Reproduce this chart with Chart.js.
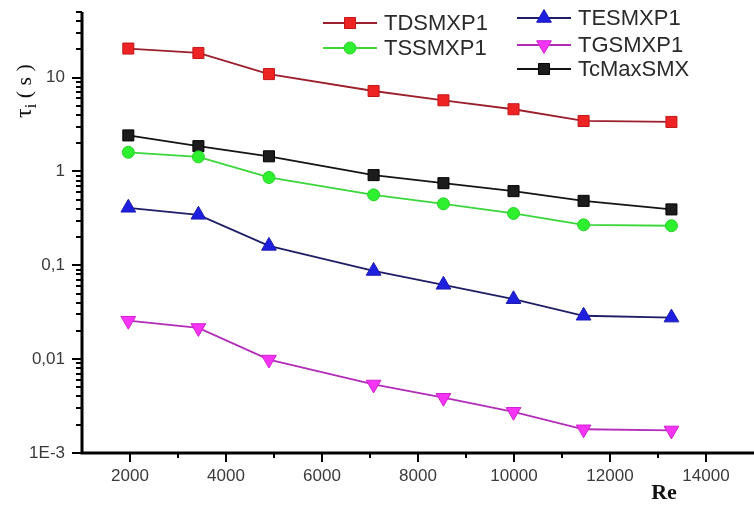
<!DOCTYPE html>
<html>
<head>
<meta charset="utf-8">
<script src="https://cdn.jsdelivr.net/npm/chart.js@4.4.0/dist/chart.umd.min.js"></script>
<style>
    html, body { margin: 0; padding: 0; background: #fff; overflow: hidden; }
    #wrap { width: 754px; height: 505px; position: relative; }
    #tauChart { display: block; }
</style>
</head>
<body>
<div id="wrap"><canvas id="tauChart" width="754" height="505"></canvas></div>
<script>
// Reynolds numbers (x) and time constants (y, seconds)
const reynolds = [1965, 3425, 4895, 7075, 8530, 9990, 11450, 13280];
const tdsmxp1  = [20.4, 18.3, 10.9, 7.2, 5.73, 4.6, 3.45, 3.37];
const tssmxp1  = [1.60, 1.43, 0.863, 0.563, 0.452, 0.357, 0.270, 0.264];
const tesmxp1  = [0.41, 0.345, 0.161, 0.087, 0.062, 0.0435, 0.029, 0.0277];
const tgsmxp1  = [0.0257, 0.0215, 0.0099, 0.00537, 0.00388, 0.00275, 0.00179, 0.00174];
const tcmaxsmx = [2.42, 1.86, 1.45, 0.914, 0.75, 0.617, 0.486, 0.394];

const xTicks = [2000, 4000, 6000, 8000, 10000, 12000, 14000];
const yTicks = [0.001, 0.01, 0.1, 1, 10];
const yTickLabels = ['1E-3', '0,01', '0,1', '1', '10'];

const toPoints = (ys) => ys.map((y, i) => ({x: reynolds[i], y: y}));

function series(label, values, line, fill, edge, style, radius, rotation) {
    return {
        label: label,
        data: toPoints(values),
        borderColor: line,
        borderWidth: 1.8,
        pointStyle: style,
        pointRadius: radius,
        pointRotation: rotation || 0,
        pointBackgroundColor: fill,
        pointBorderColor: edge,
        pointBorderWidth: 1,
        tension: 0,
        legendLine: line,
    };
}

const datasets = [
    series('TDSMXP1', tdsmxp1, '#9c1f2c', '#ee2424', '#c01818', 'rect', 7.8),
    series('TSSMXP1', tssmxp1, '#3ad63a', '#2ef02e', '#2ad02a', 'circle', 6),
    series('TESMXP1', tesmxp1, '#1e1e66', '#1f1fe0', '#1a1ab0', 'triangle', 8.5),
    series('TGSMXP1', tgsmxp1, '#b22cb8', '#f634f6', '#d020d0', 'triangle', 8.5, 180),
    series('TcMaxSMX', tcmaxsmx, '#141414', '#1c1c1c', '#000', 'rect', 7.8),
];

// legend slots: [dataset index, line start x, text y]
const legendSlots = [
    [0, 323, 23], [1, 323, 48],
    [2, 517, 18], [3, 517, 45], [4, 517, 69],
];

const axesPlugin = {
    id: 'axesPlugin',
    afterDraw(chart) {
        const {ctx, chartArea: {left, right, top, bottom}, scales: {x, y}} = chart;
        ctx.save();
        ctx.strokeStyle = '#000';
        // axis lines
        ctx.lineWidth = 3;
        ctx.beginPath();
        ctx.moveTo(left, top);
        ctx.lineTo(left, bottom);
        ctx.lineTo(right, bottom);
        ctx.stroke();
        // y ticks, major and minor
        ctx.lineWidth = 2;
        ctx.beginPath();
        yTicks.forEach(d => {
            for (let k = 1; k <= 9; k++) {
                const v = k * d;
                if (v > y.max + 1e-9) break;
                const py = Math.round(y.getPixelForValue(v));
                const len = k === 1 ? 10 : 6;
                ctx.moveTo(left - len, py);
                ctx.lineTo(left, py);
            }
        });
        // x ticks
        for (let v = 2000; v <= 14000; v += 1000) {
            const px = Math.round(x.getPixelForValue(v));
            const len = v % 2000 === 0 ? 9 : 5;
            ctx.moveTo(px, bottom);
            ctx.lineTo(px, bottom + len);
        }
        ctx.stroke();

        // y title: tau_i ( s )
        ctx.fillStyle = '#111';
        ctx.translate(24, 91);
        ctx.rotate(-Math.PI / 2);
        ctx.textBaseline = 'alphabetic';
        ctx.font = '24px "Liberation Serif", "DejaVu Serif", serif';
        const wTau = ctx.measureText('τ').width;
        ctx.font = '16px "Liberation Serif", "DejaVu Serif", serif';
        const wI = ctx.measureText('i').width;
        ctx.font = '22px "Liberation Serif", "DejaVu Serif", serif';
        const wRest = ctx.measureText(' ( s )').width;
        let cx = -(wTau + wI + wRest) / 2;
        ctx.font = '24px "Liberation Serif", "DejaVu Serif", serif';
        ctx.fillText('τ', cx, 7);
        cx += wTau;
        ctx.font = '16px "Liberation Serif", "DejaVu Serif", serif';
        ctx.fillText('i', cx, 12);
        cx += wI;
        ctx.font = '22px "Liberation Serif", "DejaVu Serif", serif';
        ctx.fillText(' ( s )', cx, 7);
        ctx.restore();

        // x title
        ctx.save();
        ctx.fillStyle = '#111';
        ctx.font = 'bold 22px "Liberation Serif", "DejaVu Serif", serif';
        ctx.textAlign = 'center';
        ctx.textBaseline = 'alphabetic';
        ctx.fillText('Re', 664, 499);
        ctx.restore();

        // legend
        ctx.save();
        legendSlots.forEach(([i, lx, ly]) => {
            const ds = chart.data.datasets[i];
            ctx.strokeStyle = ds.legendLine;
            ctx.lineWidth = 1.8;
            ctx.beginPath();
            ctx.moveTo(lx, ly);
            ctx.lineTo(lx + 54, ly);
            ctx.stroke();
            ctx.fillStyle = ds.pointBackgroundColor;
            ctx.strokeStyle = ds.pointBorderColor;
            ctx.lineWidth = 1;
            Chart.helpers.drawPoint(ctx, {
                pointStyle: ds.pointStyle,
                radius: ds.pointRadius,
                rotation: ds.pointRotation,
                borderWidth: 1,
            }, lx + 27, ly);
            ctx.fillStyle = '#2a2a2a';
            ctx.font = '22px "Liberation Sans", Arial, sans-serif';
            ctx.textBaseline = 'middle';
            ctx.fillText(ds.label, lx + 61, ly + 1);
        });
        ctx.restore();
    }
};

new Chart(document.getElementById('tauChart').getContext('2d'), {
    type: 'line',
    data: {datasets: datasets},
    options: {
        responsive: false,
        animation: false,
        layout: {autoPadding: false, padding: {top: 12, right: 0, left: 0, bottom: 0}},
        plugins: {
            legend: {display: false},
            tooltip: {enabled: false},
        },
        scales: {
            x: {
                type: 'linear',
                min: 1000,
                max: 15000,
                grid: {display: false, drawTicks: false, tickLength: 0},
                border: {display: false},
                afterBuildTicks: (scale) => { scale.ticks = xTicks.map(v => ({value: v})); },
                afterFit: (scale) => {
                    scale.height = 52;
                    scale.paddingLeft = 0;
                    scale.paddingRight = 0;
                },
                ticks: {
                    color: '#3a3a3a',
                    padding: 13,
                    maxRotation: 0,
                    font: {family: '"Liberation Sans", Arial, sans-serif', size: 17},
                    callback: (v) => String(v),
                },
            },
            y: {
                type: 'logarithmic',
                min: 0.001,
                max: 50,
                grid: {display: false, drawTicks: false, tickLength: 0},
                border: {display: false},
                afterBuildTicks: (scale) => { scale.ticks = yTicks.map(v => ({value: v})); },
                afterFit: (scale) => {
                    scale.width = 82;
                    scale.paddingTop = 0;
                    scale.paddingBottom = 0;
                },
                ticks: {
                    color: '#3a3a3a',
                    padding: 17,
                    font: {family: '"Liberation Sans", Arial, sans-serif', size: 17},
                    callback: (v) => {
                        const i = yTicks.findIndex(t => Math.abs(t - v) / t < 1e-6);
                        return i >= 0 ? yTickLabels[i] : '';
                    },
                },
            },
        },
    },
    plugins: [axesPlugin],
});
</script>
</body>
</html>
